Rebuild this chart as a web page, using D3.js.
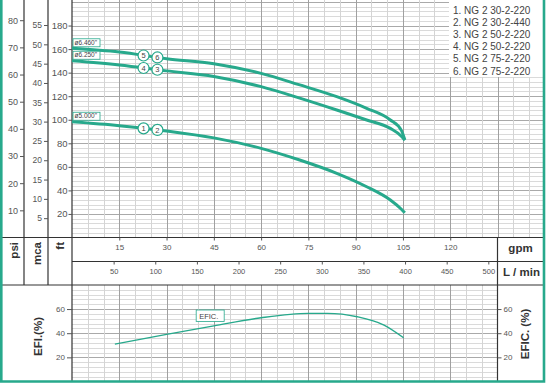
<!DOCTYPE html>
<html>
<head>
<meta charset="utf-8">
<script src="https://cdn.jsdelivr.net/npm/d3@7"></script>
<style>
  body { margin: 0; background: #fff; }
  svg { display: block; font-family: "Liberation Sans", Arial, sans-serif; }
</style>
</head>
<body>
<svg width="547" height="384"></svg>
<script>
// data (flow in gpm, head in ft, efficiency in %)
var flowGpm = [0, 15, 30, 45, 60, 72, 84, 93.5, 101, 104.5, 105.6];
var head6460 = [160.7, 157.5, 151.8, 147.6, 139.4, 129.8, 119.6, 109.7, 99.8, 91, 83];
var head6250 = [150.1, 146.5, 141.5, 136.8, 128.1, 118.6, 108.3, 99.8, 92.7, 86, 82.5];
var head5000 = [98.3, 95, 90.5, 84.6, 75.7, 66, 54.5, 43.1, 31.8, 24, 21];
var diameters = ["ø6.460\"", "ø6.250\"", "ø5.000\""];
var curveTags = [[5, 6], [4, 3], [1, 2]];
var tagFlows = [22.7, 27.1];

var effGpm = [13.6, 30, 45, 60, 75, 81, 90.5, 99, 105.2];
var effPct = [31, 39, 46.1, 52.8, 56.4, 56.4, 53.6, 46.7, 36.2];

var models = ["1. NG 2 30-2-220", "2. NG 2 30-2-440", "3. NG 2 50-2-220",
  "4. NG 2 50-2-220", "5. NG 2 75-2-220", "6. NG 2 75-2-220"];

var psiTicks = [10, 20, 30, 40, 50, 60, 70, 80];
var mcaTicks = [5, 10, 15, 20, 25, 30, 35, 40, 45, 50, 55];
var ftTicks = [20, 40, 60, 80, 100, 120, 140, 160, 180];
var gpmTicks = [15, 30, 45, 60, 75, 90, 105, 120];
var lpmTicks = [50, 100, 150, 200, 250, 300, 350, 400, 450, 500];
var effTicks = [20, 40, 60];

var teal = "#27a98c";
var svg = d3.select("svg");

// scales
var x = d3.scaleLinear().domain([0, 135]).range([72, 497.5]);
var xL = d3.scaleLinear().domain([0, 135 * 3.7854]).range([72, 497.5]);
var yFt = d3.scaleLinear().domain([0, 200]).range([237.5, 2]);
var yMca = d3.scaleLinear().domain([0, 200 * 0.3048]).range([237.5, 2]);
var yPsi = d3.scaleLinear().domain([0, 200 * 0.3048 / 0.70307]).range([237.5, 2]);
var yEff = d3.scaleLinear().domain([0, 80]).range([381.5, 284.9]);

// grid, main panel
var grid = svg.append("g");
grid.selectAll(".hm").data(d3.range(4, 204, 4)).enter().append("line")
  .attr("x1", 72).attr("x2", 543)
  .attr("y1", d => Math.round(yFt(d)) + 0.5).attr("y2", d => Math.round(yFt(d)) + 0.5)
  .attr("stroke", d => d % 20 === 0 ? "#a9a9a9" : "#dadada");
grid.selectAll(".vm").data(d3.range(5, 150, 5)).enter().append("line")
  .attr("x1", d => Math.round(x(d)) + 0.5).attr("x2", d => Math.round(x(d)) + 0.5)
  .attr("y1", 0).attr("y2", 237.5)
  .attr("stroke", d => d % 15 === 0 ? "#a0a0a0" : "#d4d4d4");

// grid, efficiency panel
grid.selectAll(".he").data(d3.range(4, 80, 4)).enter().append("line")
  .attr("x1", 72).attr("x2", 497.5)
  .attr("y1", d => Math.round(yEff(d)) + 0.5).attr("y2", d => Math.round(yEff(d)) + 0.5)
  .attr("stroke", d => d % 20 === 0 ? "#a9a9a9" : "#dadada");
grid.selectAll(".ve").data(d3.range(5, 135, 5)).enter().append("line")
  .attr("x1", d => Math.round(x(d)) + 0.5).attr("x2", d => Math.round(x(d)) + 0.5)
  .attr("y1", 285).attr("y2", 381)
  .attr("stroke", d => d % 15 === 0 ? "#a0a0a0" : "#d4d4d4");

// frame lines
var frame = [
  [24, 0, 24, 285], [48, 0, 48, 285], [72, 0, 72, 381],
  [2, 237.5, 543, 237.5], [72, 261.5, 543, 261.5], [2, 285, 543, 285],
  [497.5, 237.5, 497.5, 381]
];
svg.append("g").selectAll("line").data(frame).enter().append("line")
  .attr("x1", d => d[0]).attr("y1", d => d[1])
  .attr("x2", d => d[2]).attr("y2", d => d[3])
  .attr("stroke", "#333").attr("stroke-width", 1.2);

// left axes
function styleAxis(g, size) {
  g.select(".domain").remove();
  g.selectAll(".tick line").attr("stroke", "#555");
  g.selectAll(".tick text").attr("fill", "#555").style("font-size", size + "px")
    .style("font-family", "'Liberation Sans', Arial, sans-serif");
}
svg.append("g").attr("transform", "translate(24,0)")
  .call(d3.axisLeft(yPsi).tickValues(psiTicks).tickSize(4).tickPadding(2))
  .call(g => styleAxis(g, 9));
svg.append("g").attr("transform", "translate(48,0)")
  .call(d3.axisLeft(yMca).tickValues(mcaTicks).tickSize(4).tickPadding(2))
  .call(g => styleAxis(g, 8.5));
svg.append("g").attr("transform", "translate(72,0)")
  .call(d3.axisLeft(yFt).tickValues(ftTicks).tickSize(3.5).tickPadding(1))
  .call(g => styleAxis(g, 9.5));

// flow axes
svg.append("g").attr("transform", "translate(0,237.5)")
  .call(d3.axisBottom(x).tickValues(gpmTicks).tickSize(3).tickPadding(4))
  .call(g => styleAxis(g, 8));
svg.append("g").attr("transform", "translate(0,261.5)")
  .call(d3.axisBottom(xL).tickValues(lpmTicks).tickSize(3).tickPadding(4))
  .call(g => styleAxis(g, 7.5));

// efficiency axes
svg.append("g").attr("transform", "translate(72,0)")
  .call(d3.axisLeft(yEff).tickValues(effTicks).tickSize(5).tickPadding(2))
  .call(g => styleAxis(g, 8));
svg.append("g").attr("transform", "translate(497.5,0)")
  .call(d3.axisRight(yEff).tickValues(effTicks).tickSize(4).tickPadding(2))
  .call(g => styleAxis(g, 8));

// unit labels
var bold = svg.append("g").attr("fill", "#333").style("font-weight", "bold").style("font-size", "11.5px");
[["psi", 14], ["mca", 37], ["ft", 60]].forEach(function(u) {
  bold.append("text").attr("transform", "translate(" + (u[1] + 4) + ",242) rotate(-90)")
    .attr("text-anchor", "end").text(u[0]);
});
bold.append("text").attr("x", 520.5).attr("y", 252).attr("text-anchor", "middle").text("gpm");
bold.append("text").attr("x", 521.5).attr("y", 276).attr("text-anchor", "middle").text("L / min");
bold.append("text").attr("transform", "translate(41.5,336.5) rotate(-90)")
  .attr("text-anchor", "middle").text("EFI.(%)");
bold.append("text").attr("transform", "translate(529,334) rotate(-90)")
  .attr("text-anchor", "middle").text("EFIC. (%)");

// head curves
var line = d3.line().curve(d3.curveMonotoneX)
  .x(d => x(d[0])).y(d => yFt(d[1]));
var heads = [head6460, head6250, head5000];
heads.forEach(function(h, i) {
  var pts = flowGpm.map((f, j) => [f, h[j]]);
  svg.append("path").datum(pts).attr("d", line)
    .attr("fill", "none").attr("stroke", teal).attr("stroke-width", 3);

  // diameter tag at the left end
  var y0 = yFt(h[0]);
  svg.append("rect").attr("x", 73).attr("y", y0 - 9.5).attr("width", 27).attr("height", 8)
    .attr("fill", "#fff").attr("stroke", teal).attr("stroke-width", 0.8);
  svg.append("text").attr("x", 74.5).attr("y", y0 - 3.3)
    .attr("fill", "#444").style("font-size", "6.5px").text(diameters[i]);

  // numbered circles
  var onCurve = d3.scaleLinear().domain(flowGpm).range(h);
  tagFlows.forEach(function(f, k) {
    var cx = x(f), cy = yFt(onCurve(f));
    svg.append("circle").attr("cx", cx).attr("cy", cy).attr("r", 5.5)
      .attr("fill", "#fff").attr("stroke", teal).attr("stroke-width", 1.2);
    svg.append("text").attr("x", cx).attr("y", cy + 2.6).attr("text-anchor", "middle")
      .attr("fill", "#444").style("font-size", "7.5px").text(curveTags[i][k]);
  });
});

// efficiency curve
var effLine = d3.line().curve(d3.curveMonotoneX)
  .x(d => x(d[0])).y(d => yEff(d[1]));
svg.append("path").datum(effGpm.map((f, j) => [f, effPct[j]])).attr("d", effLine)
  .attr("fill", "none").attr("stroke", teal).attr("stroke-width", 1.4);
svg.append("rect").attr("x", x(39.4)).attr("y", 310).attr("width", 28).attr("height", 11.5)
  .attr("fill", "#fff").attr("stroke", teal).attr("stroke-width", 0.8);
svg.append("text").attr("x", x(39.4) + 3).attr("y", 318.8)
  .attr("fill", "#444").style("font-size", "7.5px").text("EFIC.");

// model legend
svg.append("rect").attr("x", 449).attr("y", 0).attr("width", 94).attr("height", 77).attr("fill", "#fff");
svg.append("g").selectAll("text").data(models).enter().append("text")
  .attr("x", 453).attr("y", (d, i) => 13.5 + i * 12.2)
  .attr("fill", "#444").style("font-size", "10px").text(d => d);

// outer teal border
svg.append("path").attr("d", "M1.3,0 V381.5 H544 V0")
  .attr("fill", "none").attr("stroke", teal).attr("stroke-width", 2.6);
</script>
</body>
</html>
